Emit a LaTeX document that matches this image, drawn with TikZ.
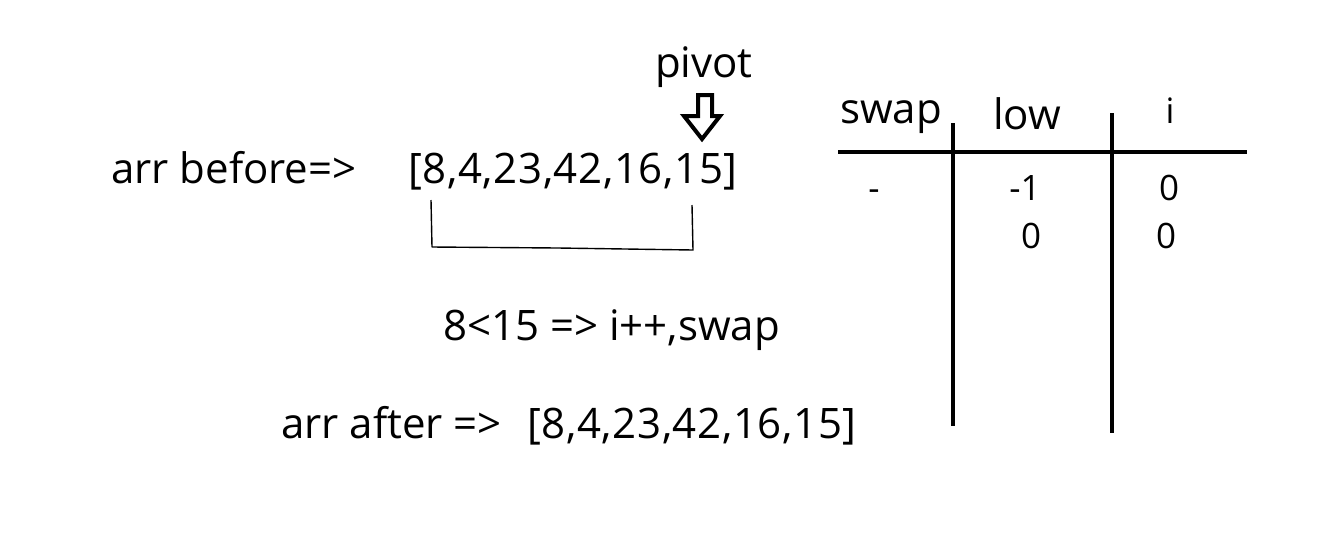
\documentclass[tikz,border=0pt]{standalone}
\usepackage{fontspec}
\setmainfont{Open Sans}
\begin{document}
\begin{tikzpicture}[x=1pt,y=-1pt,
  big/.style={font=\fontsize{42}{42}\selectfont, inner sep=0pt, anchor=base west},
  list/.style={big, font=\fontsize{42}{42}\selectfont\addfontfeature{LetterSpace=1.5}},
  small/.style={font=\fontsize{35}{35}\selectfont, inner sep=0pt, anchor=base},
  rule/.style={line width=4pt, line cap=butt},
  thin/.style={line width=1.4pt, line join=round}]
  \useasboundingbox[fill=white] (0,0) rectangle (1340,547);

  % left-hand text
  \node[big]  (before) at (111,183) {arr before=>};
  \node[list] (arr1)   at (408,183) {[8,4,23,42,16,15]};
  \node[big]  (pivot)  at (655,77)  {pivot};
  \node[big]  (cmp)    at (443,340) {8<15 => i++,swap};
  \node[big]  (after)  at (281,438) {arr after =>};
  \node[list] (arr2)   at (527,438) {[8,4,23,42,16,15]};

  % hollow arrow pointing at the pivot
  \draw[line width=4pt, line join=miter]
    (698,95) -- (712,95) -- (712,116) -- (720,116) -- (702,139)
    -- (684,116) -- (698,116) -- cycle;

  % bracket joining the first element and the pivot
  \coordinate (bl) at (431,200);
  \coordinate (br) at (692,205);
  \draw[thin] (bl) -- (432,247) -- (558,248) -- (693,250) -- (br);

  % table
  \coordinate (hl) at (838,152);
  \coordinate (hr) at (1247,152);
  \coordinate (v1t) at (953,123);
  \coordinate (v1b) at (953,426);
  \coordinate (v2t) at (1112,113);
  \coordinate (v2b) at (1112,433);
  \draw[rule] (hl) -- (hr);
  \draw[rule] (v1t) -- (v1b);
  \draw[rule] (v2t) -- (v2b);

  \node[big] (hswap) at (840,123) {swap};
  \node[big] (hlow)  at (993,129) {low};
  \node[small] (hi)  at (1170,123) {i};

  \node[small] (r1s) at (874,200) {-};
  \node[small] (r1l) at (1025,200) {-1};
  \node[small] (r1i) at (1169,200) {0};
  \node[small] (r2l) at (1031,248) {0};
  \node[small] (r2i) at (1166,248) {0};
\end{tikzpicture}
\end{document}
